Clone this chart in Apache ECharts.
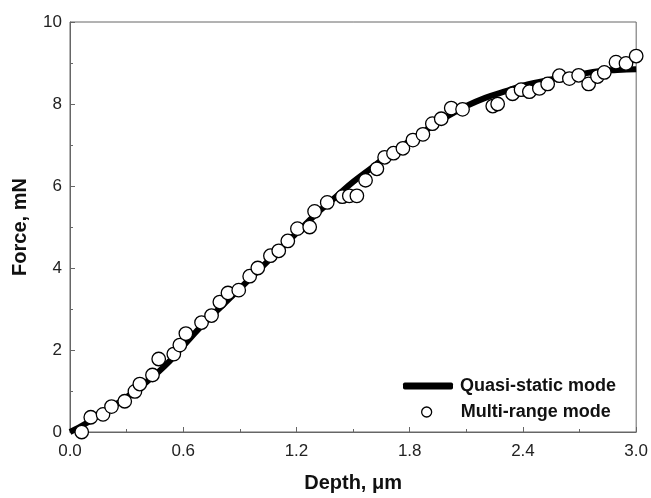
<!DOCTYPE html>
<html><head><meta charset="utf-8">
<script src="https://cdn.jsdelivr.net/npm/echarts@6/dist/echarts.min.js"></script>
<style>html,body{margin:0;padding:0;background:#fff}#c{width:651px;height:498px}</style>
</head><body><div id="c"></div>
<script>
const lineDepth = [0,0.1,0.2,0.3,0.4,0.5,0.6,0.7,0.8,0.9,1.0,1.1,1.2,1.3,1.4,1.5,1.6,1.7,1.8,1.9,2.0,2.1,2.2,2.3,2.4,2.5,2.6,2.7,2.8,2.9,3.0];
const lineForce = [0,0.25,0.55,0.85,1.2,1.6,2.1,2.6,3.05,3.5,3.95,4.4,4.85,5.3,5.7,6.1,6.45,6.8,7.1,7.4,7.7,7.95,8.15,8.3,8.45,8.55,8.65,8.72,8.8,8.83,8.85];
const ptDepth = [0.062,0.11,0.175,0.22,0.29,0.344,0.37,0.437,0.47,0.55,0.582,0.614,0.697,0.75,0.794,0.837,0.894,0.952,0.995,1.062,1.106,1.154,1.205,1.27,1.296,1.363,1.443,1.48,1.52,1.566,1.626,1.667,1.714,1.764,1.817,1.87,1.92,1.967,2.02,2.08,2.24,2.266,2.345,2.39,2.434,2.487,2.531,2.593,2.646,2.695,2.748,2.795,2.831,2.893,2.946,3.0];
const ptForce = [0.0,0.36,0.43,0.62,0.75,0.99,1.17,1.39,1.78,1.90,2.12,2.40,2.67,2.84,3.17,3.39,3.46,3.80,4.0,4.30,4.42,4.66,4.96,5.0,5.38,5.60,5.74,5.76,5.76,6.14,6.42,6.70,6.80,6.92,7.12,7.26,7.52,7.64,7.90,7.87,7.95,8.00,8.25,8.35,8.30,8.38,8.49,8.69,8.62,8.70,8.49,8.67,8.77,9.02,8.99,9.17];
const xTicks = [0,0.6,1.2,1.8,2.4,3.0];
const yTicks = [0,2,4,6,8,10];

const font = 'Liberation Sans, Arial, sans-serif';
const axisCol = '#666';
const chart = echarts.init(document.getElementById('c'), null, {renderer:'canvas'});
chart.setOption({
  animation:false,
  backgroundColor:'#fff',
  grid:{left:70,right:14,top:22,bottom:60,show:true,borderColor:axisCol,borderWidth:1},
  legend:[{
    data:['Quasi-static mode'], left:398, top:372, itemWidth:50, itemHeight:7, icon:'roundRect', itemGap:0,
    textStyle:{fontFamily:font,fontWeight:'bold',fontSize:18,color:'#111',padding:[0,0,0,2]}
  },{
    data:['Multi-range mode'], left:416, top:398, itemWidth:10, itemHeight:10, icon:'circle', itemGap:0,
    itemStyle:{color:'#fff',borderColor:'#000',borderWidth:1.3,opacity:1},
    textStyle:{fontFamily:font,fontWeight:'bold',fontSize:18,color:'#111',padding:[0,0,0,24]}
  }],
  xAxis:{
    type:'value', min:0, max:3, interval:0.6,
    name:'Depth, μm', nameLocation:'middle', nameGap:41,
    nameTextStyle:{fontFamily:font,fontWeight:'bold',fontSize:20,color:'#111'},
    axisLine:{lineStyle:{color:axisCol}},
    axisTick:{inside:true,length:5,lineStyle:{color:axisCol}},
    minorTick:{show:true,splitNumber:2,length:3,lineStyle:{color:axisCol}},
    splitLine:{show:false},
    axisLabel:{fontFamily:font,fontSize:17,color:'#222',margin:11,
      formatter:v=>{const t=xTicks.find(k=>Math.abs(k-v)<1e-6);return t===undefined?'':t.toFixed(1);}}
  },
  yAxis:{
    type:'value', min:0, max:10, interval:2,
    name:'Force, mN', nameLocation:'middle', nameGap:40, nameRotate:90,
    nameTextStyle:{fontFamily:font,fontWeight:'bold',fontSize:20,color:'#111'},
    axisLine:{lineStyle:{color:axisCol}},
    axisTick:{inside:true,length:5,lineStyle:{color:axisCol}},
    minorTick:{show:true,splitNumber:2,length:3,lineStyle:{color:axisCol}},
    splitLine:{show:false},
    axisLabel:{fontFamily:font,fontSize:17,color:'#222',margin:8,
      formatter:v=>{const t=yTicks.find(k=>Math.abs(k-v)<1e-6);return t===undefined?'':String(t);}}
  },
  series:[{
    name:'Quasi-static mode', type:'line', smooth:true, showSymbol:false, symbol:'none',
    data:lineDepth.map((d,i)=>[d,lineForce[i]]),
    lineStyle:{color:'#000',width:6}, itemStyle:{color:'#000'}, z:2, clip:true
  },{
    name:'Multi-range mode', type:'scatter', symbol:'circle', symbolSize:13.5,
    data:ptDepth.map((d,i)=>[d,ptForce[i]]),
    itemStyle:{color:'#fff',borderColor:'#000',borderWidth:1.3,opacity:1}, z:3, clip:false
  }]
});
</script></body></html>
